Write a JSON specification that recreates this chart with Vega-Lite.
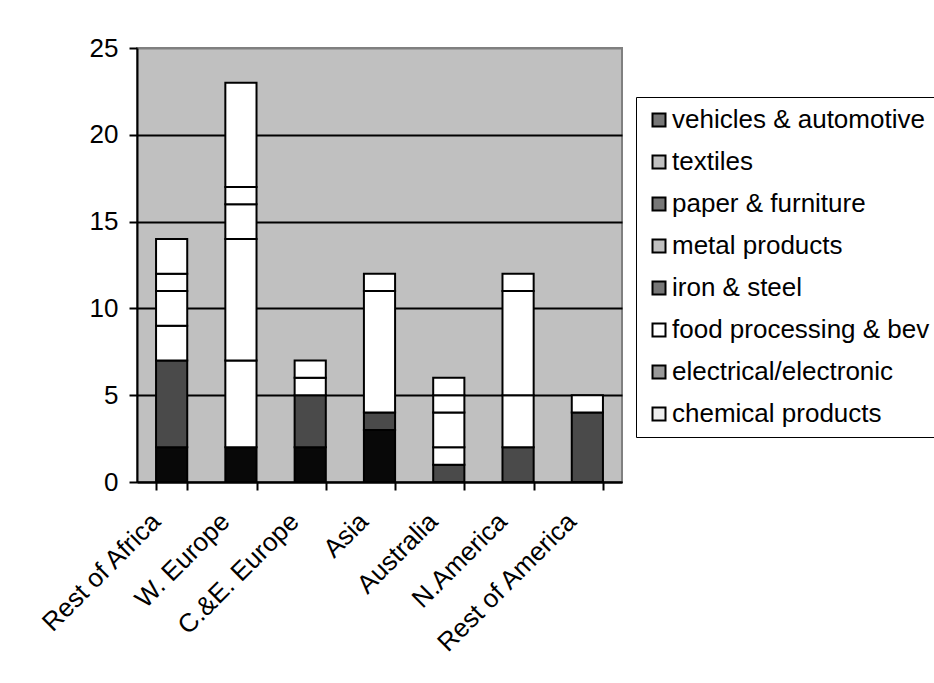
{
  "$schema": "https://vega.github.io/schema/vega-lite/v6.json",
  "width": 485,
  "height": 434,
  "autosize": {"type": "none"},
  "padding": {"left": 137, "top": 48, "right": 312, "bottom": 201},
  "background": "white",
  "config": {
    "font": "Liberation Sans",
    "view": {"fill": "#c0c0c0", "stroke": "#808080", "strokeWidth": 2},
    "axis": {"labelColor": "black", "labelFont": "Liberation Sans", "labelFontSize": 26, "domainColor": "black", "domainWidth": 2, "tickColor": "black", "tickWidth": 2, "tickSize": 8}
  },
  "data": {
    "values": [
      {"region": "Rest of Africa", "sector": "chemical products", "value": 2},
      {"region": "Rest of Africa", "sector": "electrical/electronic", "value": 5},
      {"region": "Rest of Africa", "sector": "food processing & bev", "value": 2},
      {"region": "Rest of Africa", "sector": "iron & steel", "value": 2},
      {"region": "Rest of Africa", "sector": "metal products", "value": 1},
      {"region": "Rest of Africa", "sector": "paper & furniture", "value": 2},
      {"region": "W. Europe", "sector": "chemical products", "value": 2},
      {"region": "W. Europe", "sector": "food processing & bev", "value": 5},
      {"region": "W. Europe", "sector": "iron & steel", "value": 7},
      {"region": "W. Europe", "sector": "metal products", "value": 2},
      {"region": "W. Europe", "sector": "paper & furniture", "value": 1},
      {"region": "W. Europe", "sector": "textiles", "value": 6},
      {"region": "C.&E. Europe", "sector": "chemical products", "value": 2},
      {"region": "C.&E. Europe", "sector": "electrical/electronic", "value": 3},
      {"region": "C.&E. Europe", "sector": "food processing & bev", "value": 1},
      {"region": "C.&E. Europe", "sector": "iron & steel", "value": 1},
      {"region": "Asia", "sector": "chemical products", "value": 3},
      {"region": "Asia", "sector": "electrical/electronic", "value": 1},
      {"region": "Asia", "sector": "food processing & bev", "value": 7},
      {"region": "Asia", "sector": "iron & steel", "value": 1},
      {"region": "Australia", "sector": "electrical/electronic", "value": 1},
      {"region": "Australia", "sector": "food processing & bev", "value": 1},
      {"region": "Australia", "sector": "iron & steel", "value": 2},
      {"region": "Australia", "sector": "metal products", "value": 1},
      {"region": "Australia", "sector": "paper & furniture", "value": 1},
      {"region": "N.America", "sector": "electrical/electronic", "value": 2},
      {"region": "N.America", "sector": "food processing & bev", "value": 3},
      {"region": "N.America", "sector": "iron & steel", "value": 6},
      {"region": "N.America", "sector": "metal products", "value": 1},
      {"region": "Rest of America", "sector": "electrical/electronic", "value": 4},
      {"region": "Rest of America", "sector": "food processing & bev", "value": 1}
    ]
  },
  "layer": [
    {
      "mark": {"type": "bar", "stroke": "black", "strokeWidth": 2},
      "encoding": {
        "x": {
          "field": "region", "type": "nominal",
          "sort": ["Rest of Africa", "W. Europe", "C.&E. Europe", "Asia", "Australia", "N.America", "Rest of America"],
          "scale": {"paddingInner": 0.55, "paddingOuter": 0.275},
          "axis": {"title": null, "labelAngle": -45, "labelPadding": 18, "labelOffset": -25, "labelLimit": 400, "tickBand": "extent", "grid": false}
        },
        "y": {
          "field": "value", "type": "quantitative", "aggregate": "sum", "stack": "zero",
          "scale": {"domain": [0, 25], "nice": false},
          "axis": {
            "title": null, "values": [0, 5, 10, 15, 20, 25], "labelPadding": 11, "grid": true,
            "gridColor": {"condition": {"test": "datum.value == 25", "value": "#808080"}, "value": "black"},
            "gridWidth": 2
          }
        },
        "order": {"field": "sector", "type": "nominal", "sort": "ascending"},
        "fill": {
          "field": "sector", "type": "nominal",
          "scale": {
            "domain": ["chemical products", "electrical/electronic", "food processing & bev", "iron & steel", "metal products", "paper & furniture", "textiles", "vehicles & automotive"],
            "range": ["#080808", "#4a4a4a", "#ffffff", "#ffffff", "#ffffff", "#ffffff", "#ffffff", "#ffffff"]
          },
          "legend": null
        }
      }
    },
    {
      "mark": {"type": "point", "shape": "square", "filled": true, "opacity": 0},
      "encoding": {
        "x": {"field": "region", "type": "nominal", "sort": ["Rest of Africa", "W. Europe", "C.&E. Europe", "Asia", "Australia", "N.America", "Rest of America"]},
        "y": {"field": "value", "type": "quantitative"},
        "color": {
          "field": "sector", "type": "nominal",
          "scale": {
            "domain": ["vehicles & automotive", "textiles", "paper & furniture", "metal products", "iron & steel", "food processing & bev", "electrical/electronic", "chemical products"],
            "range": ["#777777", "#c0c0c0", "#777777", "#c0c0c0", "#777777", "#ffffff", "#999999", "#eeeeee"]
          },
          "legend": {
            "title": null,
            "orient": "none",
            "legendX": 499,
            "legendY": 49,
            "padding": 10,
            "strokeColor": "black",
            "fillColor": "white",
            "labelFont": "Liberation Sans",
            "labelFontSize": 26,
            "labelColor": "black",
            "labelOffset": 0,
            "labelLimit": 400,
            "rowPadding": 16,
            "symbolType": "square",
            "symbolSize": 169,
            "symbolOpacity": 1,
            "symbolStrokeColor": "black",
            "symbolStrokeWidth": 2,
            "offset": 0
          }
        }
      }
    }
  ]
}
